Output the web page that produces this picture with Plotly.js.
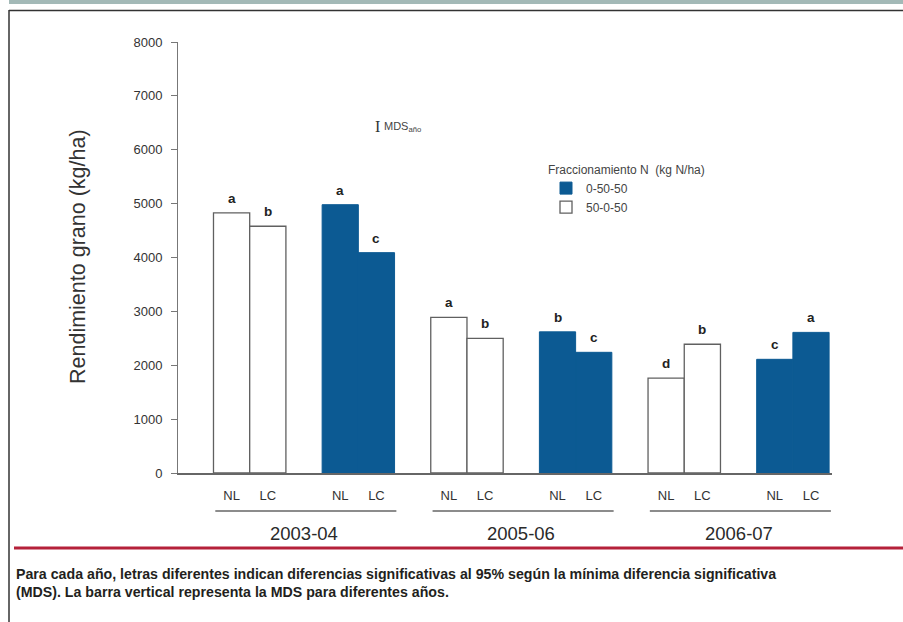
<!DOCTYPE html>
<html>
<head>
<meta charset="utf-8">
<script src="https://cdn.plot.ly/plotly-3.0.1.min.js"></script>
<style>html,body{margin:0;padding:0;background:#fff;}#chart{width:903px;height:622px;}</style>
</head>
<body>
<div id="chart"></div>
<script>
// ---- data ----
var years = ['2003-04', '2005-06', '2006-07'];
var treatments = ['NL', 'LC'];
var seriesNames = ['0-50-50', '50-0-50'];
// 0-50-50 (filled) per year: [NL, LC]
var filled = [[4980, 4090], [2620, 2240], [2110, 2610]];
var filledLetters = [['a', 'c'], ['b', 'c'], ['c', 'a']];
// 50-0-50 (open) per year: [NL, LC]
var open = [[4830, 4580], [2890, 2500], [1760, 2390]];
var openLetters = [['a', 'b'], ['a', 'b'], ['d', 'b']];
var yTicks = [0, 1000, 2000, 3000, 4000, 5000, 6000, 7000, 8000];
var yTitle = 'Rendimiento grano (kg/ha)';
var legendTitle = 'Fraccionamiento N  (kg N/ha)';
var mdsLabel = 'MDS<sub>año</sub>';
var captionLines = [
  'Para cada año, letras diferentes indican diferencias significativas al 95% según la mínima diferencia significativa',
  '(MDS). La barra vertical representa la MDS para diferentes años.'
];

// ---- layout helpers ----
var W = 903, H = 622;
var L = 178, R = 832, T = 42, B = 473;
function px(x) { return (x - L) / (R - L); }
function py(y) { return (B - y) / (B - T); }
var seriesOrder = { open: 0, filled: 1 };
function pos(g, s, t) { return g * 6 + s * 3 + t; }

function build(vals, letters, s) {
  var xs = [], ys = [], ls = [];
  for (var g = 0; g < years.length; g++) {
    for (var t = 0; t < treatments.length; t++) {
      xs.push(pos(g, s, t)); ys.push(vals[g][t]); ls.push(letters[g][t]);
    }
  }
  return { x: xs, y: ys, l: ls };
}
var fD = build(filled, filledLetters, seriesOrder.filled);
var oD = build(open, openLetters, seriesOrder.open);

var blue = '#0c5a93';
var traces = [
  { type: 'bar', name: seriesNames[0], x: fD.x, y: fD.y, width: 1,
    marker: { color: blue, line: { color: blue, width: 1 } }, hoverinfo: 'y' },
  { type: 'bar', name: seriesNames[1], x: oD.x, y: oD.y, width: 1,
    marker: { color: '#ffffff', line: { color: '#606060', width: 1.3 } }, hoverinfo: 'y' }
];

var tickvals = [], ticktext = [];
for (var g = 0; g < years.length; g++) {
  for (var s = 0; s < 2; s++) {
    for (var t = 0; t < treatments.length; t++) {
      tickvals.push(pos(g, s, t)); ticktext.push(treatments[t]);
    }
  }
}

var annotations = [];
[fD, oD].forEach(function (d) {
  for (var i = 0; i < d.x.length; i++) {
    annotations.push({ x: d.x[i], y: d.y[i], xref: 'x', yref: 'y', text: '<b>' + d.l[i] + '</b>',
      showarrow: false, yanchor: 'bottom', yshift: 5,
      font: { family: 'Liberation Sans, Arial', size: 13.5, color: '#222' } });
  }
});
var shapes = [];
for (var g = 0; g < years.length; g++) {
  annotations.push({ x: g * 6 + 2, y: py(533), xref: 'x', yref: 'paper', text: years[g],
    showarrow: false, yanchor: 'middle',
    font: { family: 'Liberation Sans, Arial', size: 18.5, color: '#2a2a2a' } });
  shapes.push({ type: 'line', xref: 'x', yref: 'paper', x0: g * 6 - 0.45, x1: g * 6 + 4.55,
    y0: py(511), y1: py(511), line: { color: '#666', width: 1.5 } });
}
// y title
annotations.push({ x: px(78), y: py(257), xref: 'paper', yref: 'paper', text: yTitle, textangle: -90,
  showarrow: false, xanchor: 'center', yanchor: 'middle',
  font: { family: 'Liberation Sans, Arial', size: 21.5, color: '#333' } });
// MDS marker
annotations.push({ x: px(373), y: py(126), xref: 'paper', yref: 'paper', text: 'I',
  showarrow: false, xanchor: 'left', yanchor: 'middle',
  font: { family: 'Liberation Serif, Times New Roman, serif', size: 16, color: '#333' } });
annotations.push({ x: px(382), y: py(127), xref: 'paper', yref: 'paper', text: mdsLabel,
  showarrow: false, xanchor: 'left', yanchor: 'middle',
  font: { family: 'Liberation Sans, Arial', size: 11, color: '#444' } });
// caption
captionLines.forEach(function (c, i) {
  annotations.push({ x: px(14), y: py(574 + i * 18), xref: 'paper', yref: 'paper', text: '<b>' + c + '</b>',
    showarrow: false, xanchor: 'left', yanchor: 'middle', align: 'left',
    font: { family: 'Liberation Sans, Arial', size: 14.2, color: '#231f20' } });
});
// frame
shapes.push({ type: 'rect', xref: 'paper', yref: 'paper', x0: px(9), x1: px(903), y0: py(0), y1: py(4),
  fillcolor: '#a3b9b7', line: { width: 0 } });
shapes.push({ type: 'line', xref: 'paper', yref: 'paper', x0: px(9), x1: px(903), y0: py(10.5), y1: py(10.5),
  line: { color: '#333', width: 1.5 } });
shapes.push({ type: 'line', xref: 'paper', yref: 'paper', x0: px(9), x1: px(9), y0: py(10), y1: py(622),
  line: { color: '#333', width: 1.5 } });
shapes.push({ type: 'line', xref: 'paper', yref: 'paper', x0: px(14), x1: px(903), y0: py(548), y1: py(548),
  line: { color: '#b5213a', width: 3 } });

var layout = {
  width: W, height: H,
  margin: { l: L, r: W - R, t: T, b: H - B, pad: 0 },
  paper_bgcolor: '#fff', plot_bgcolor: 'rgba(0,0,0,0)',
  barmode: 'overlay', bargap: 0,
  font: { family: 'Liberation Sans, Arial', color: '#333' },
  xaxis: { range: [-1.48, 16.58], showgrid: false, zeroline: false, showline: true,
    linecolor: '#666', linewidth: 1.5, tickmode: 'array', tickvals: tickvals, ticktext: ticktext,
    ticks: '', ticklabelstandoff: 10,
    tickfont: { family: 'Liberation Sans, Arial', size: 13, color: '#333' } },
  yaxis: { range: [0, 8000], tickmode: 'array', tickvals: yTicks, showgrid: false, zeroline: false,
    showline: true, linecolor: '#777', linewidth: 1, ticks: 'outside', ticklen: 6, tickcolor: '#777',
    ticklabelstandoff: 6,
    tickfont: { family: 'Liberation Sans, Arial', size: 13, color: '#333' } },
  showlegend: true,
  legend: { x: px(546), y: py(158), xanchor: 'left', yanchor: 'top', bgcolor: 'rgba(0,0,0,0)',
    title: { text: legendTitle, font: { size: 12, color: '#444' } },
    font: { size: 12, color: '#444' }, tracegroupgap: 0, itemwidth: 30 },
  annotations: annotations,
  shapes: shapes
};
Plotly.newPlot('chart', traces, layout, { displayModeBar: false, staticPlot: true });
</script>
</body>
</html>
